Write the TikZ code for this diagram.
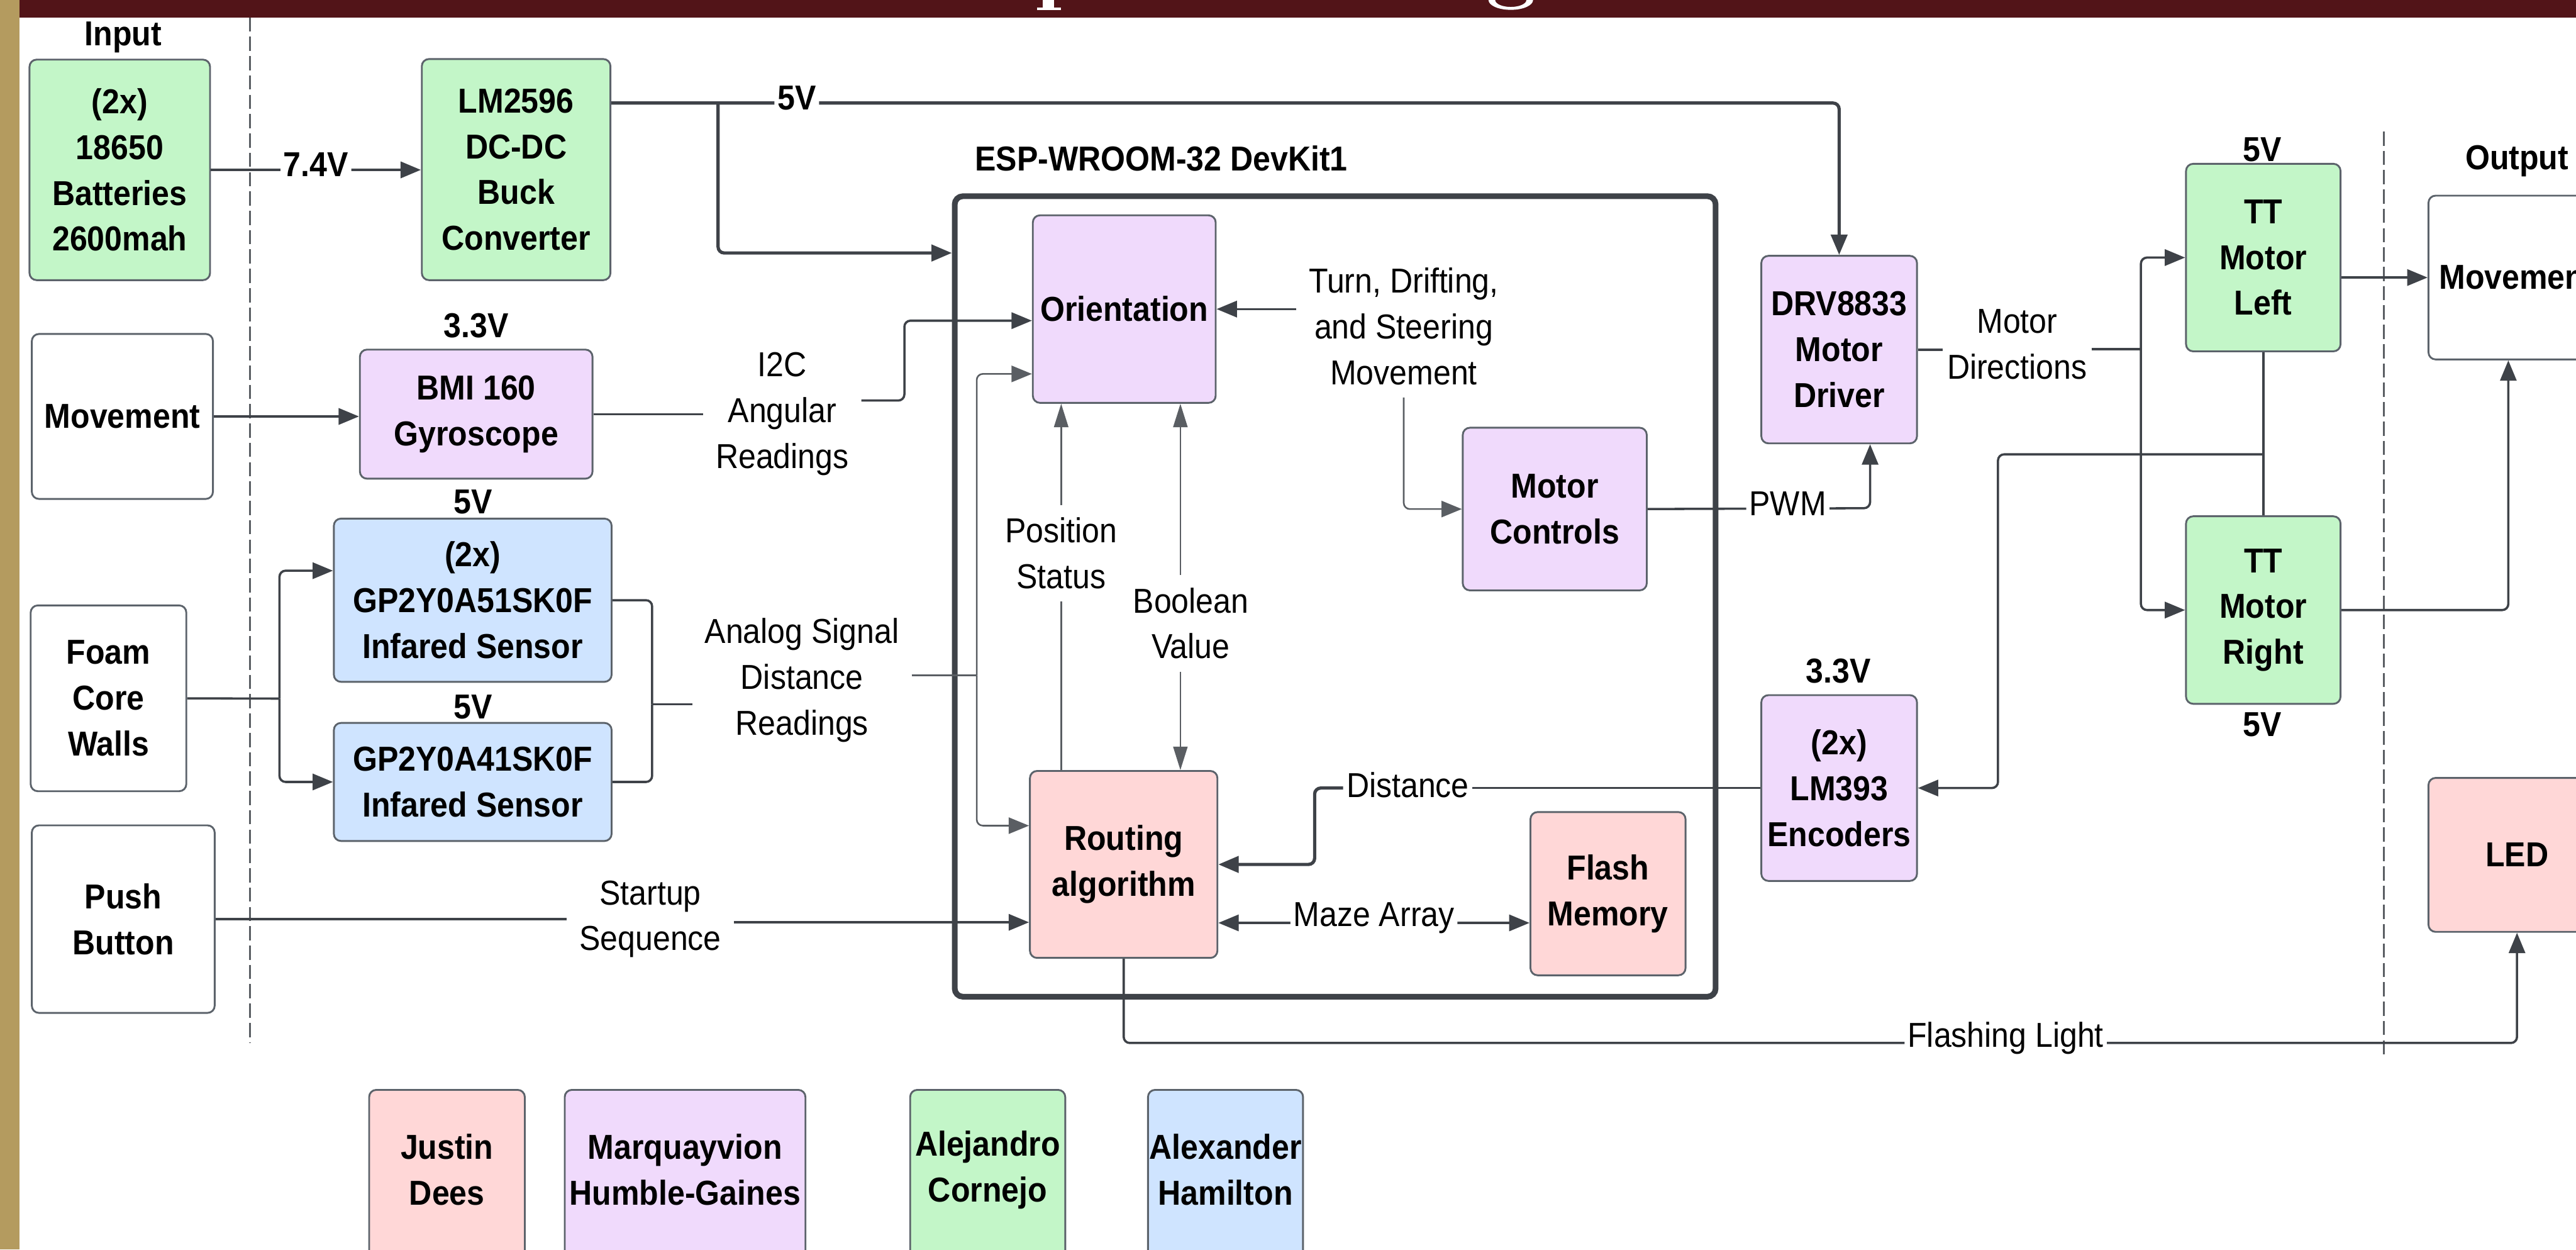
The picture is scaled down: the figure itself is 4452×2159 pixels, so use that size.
\documentclass[tikz,border=0pt]{standalone}
\usepackage{fontspec}
\setmainfont{Liberation Sans}[FakeStretch=0.91]
\usetikzlibrary{arrows.meta,calc}
\definecolor{cgreen}{HTML}{C3F6C8}
\definecolor{cpurple}{HTML}{F0DAFC}
\definecolor{cpink}{HTML}{FFD7D7}
\definecolor{cblue}{HTML}{CFE4FF}
\definecolor{cborder}{HTML}{5C636B}
\definecolor{cline}{HTML}{3E4248}
\definecolor{cthin}{HTML}{5A5E63}
\definecolor{cbanner}{HTML}{521418}
\definecolor{cgold}{HTML}{B49B5F}
\begin{document}
\begin{tikzpicture}[x=0.01cm,y=-0.01cm,
  txt/.style={font=\fontsize{17}{22.5}\selectfont, align=center},
  btxt/.style={font=\fontsize{17}{22.5}\selectfont\bfseries, align=center},
  box/.style={draw=cborder, line width=0.9pt, rounded corners=3.5pt, inner sep=0pt, btxt},
  sz/.style 2 args={minimum width=#1*0.01cm, minimum height=#2*0.01cm},
  lbl/.style={txt, inner sep=6pt},
  onl/.style={fill=white, inner sep=1.5pt, yshift=2.5pt},
  conn/.style={draw=cline, line width=1.1pt, rounded corners=3pt},
  thickc/.style={conn, line width=1.6pt},
  thinc/.style={conn, draw=cthin, line width=0.8pt},
  tip/.style={-{Triangle[length=10pt,width=8pt]}},
  ntip/.style={-{Triangle[length=11.5pt,width=7pt]}},
  dashline/.style={draw=cthin, line width=0.7pt, dash pattern=on 7pt off 2.5pt}
]
\useasboundingbox (0,0) rectangle (4452,2159);
\clip (0,0) rectangle (4452,2159);
% banner and side strip
\fill[cgold] (0,0) rectangle (34,2159);
\fill[cbanner] (34,0) rectangle (4452,30);
\fill[white] (1802,0) rectangle (1822,14);
\fill[white] (1792,13) rectangle (1834,17);
\fill[white,even odd rule] (2611,0) ellipse (38.5 and 17) (2611,0) ellipse (27 and 12);
% dashed separators
\draw[dashline] (432,30) -- (432,1802);
\draw[dashline] (4120,227) -- (4120,1827);

% ESP box
\node[draw=cline, line width=2.8pt, rounded corners=4pt, sz={1315}{1383}] (esp) at (2307.5,1030.5) {};

% blocks
\node[box, fill=cgreen, sz={312}{381}] (bat) at (207,293.5) {(2x)\\18650\\Batteries\\2600mah};
\node[box, fill=cgreen, sz={326}{382}] (buck) at (892,293) {LM2596\\DC-DC\\Buck\\Converter};
\node[box, fill=white, sz={313}{285}] (mov) at (211.5,719.5) {Movement};
\node[box, fill=cpurple, sz={402}{223}] (bmi) at (823,715.5) {BMI 160\\Gyroscope};
\node[box, fill=white, sz={269}{321}] (foam) at (187.5,1206.5) {Foam\\Core\\Walls};
\node[box, fill=cblue, sz={480}{282}] (g51) at (817,1037) {(2x)\\GP2Y0A51SK0F\\Infared Sensor};
\node[box, fill=cblue, sz={480}{204}] (g41) at (817,1351) {GP2Y0A41SK0F\\Infared Sensor};
\node[box, fill=white, sz={316}{324}] (push) at (213,1588) {Push\\Button};
\node[box, fill=cpurple, sz={316}{324}] (ori) at (1943,534) {Orientation};
\node[box, fill=cpurple, sz={318}{281}] (mc) at (2687,879.5) {Motor\\Controls};
\node[box, fill=cpink, sz={324}{323}] (rout) at (1942,1493.5) {Routing\\algorithm};
\node[box, fill=cpink, sz={268}{282}] (flash) at (2779,1544) {Flash\\Memory};
\node[box, fill=cpurple, sz={269}{324}] (drv) at (3178.5,604) {DRV8833\\Motor\\Driver};
\node[box, fill=cpurple, sz={269}{321}] (enc) at (3178.5,1361.5) {(2x)\\LM393\\Encoders};
\node[box, fill=cgreen, sz={267}{324}] (ttl) at (3911.5,445) {TT\\Motor\\Left};
\node[box, fill=cgreen, sz={267}{324}] (ttr) at (3911.5,1054) {TT\\Motor\\Right};
\node[box, fill=white, sz={306}{283}] (omov) at (4350,479.5) {Movement};
\node[box, fill=cpink, sz={306}{266}] (led) at (4350,1477) {LED};

% team boxes
\node[box, fill=cpink, sz={269}{360}] (n1) at (772.5,2063) {};
\node[btxt] (n1t) at (772.5,2021) {Justin\\Dees};
\node[box, fill=cpurple, sz={416}{360}] (n2) at (1184,2063) {};
\node[btxt] (n2t) at (1184,2021) {Marquayvion\\Humble-Gaines};
\node[box, fill=cgreen, sz={268}{360}] (n3) at (1707,2063) {};
\node[btxt] (n3t) at (1707,2021) {Alejandro\\Cornejo};
\node[box, fill=cblue, sz={268}{360}] (n4) at (2118,2063) {};
\node[btxt] (n4t) at (2118,2021) {Alexander\\Hamilton};

% headings and voltages
\node[btxt] (inlbl) at (213,64) {Input};
\node[btxt] (outlbl) at (4350,278) {Output};
\node[btxt] (esplbl) at (2007,274) {ESP-WROOM-32 DevKit1};
\node[btxt] (v1) at (823,563) {3.3V};
\node[btxt] (v2) at (818,867) {5V};
\node[btxt] (v3) at (818,1221) {5V};
\node[btxt] (v4) at (3910,258) {5V};
\node[btxt] (v5) at (3910,1252) {5V};
\node[btxt] (v6) at (3177,1159) {3.3V};

% free labels
\node[lbl] (i2c) at (1352,715) {I2C\\Angular\\Readings};
\node[lbl] (analog) at (1386,1175) {Analog Signal\\Distance\\Readings};
\node[lbl] (turn) at (2426,564) {Turn, Drifting,\\and Steering\\Movement};
\node[lbl] (pos) at (1834,956) {Position\\Status};
\node[lbl] (bool) at (2058,1077) {Boolean\\Value};
\node[lbl, inner sep=2pt] (mdir) at (3486,595) {Motor\\Directions};
\node[lbl] (startup) at (1124,1588) {Startup\\Sequence};
\node[txt, fill=white, inner sep=1.5pt] (dist) at (2433,1356) {Distance};

% coordinates
\coordinate (b5) at (1241,178);
\coordinate (e5) at ($(esp.north west)+(0,103)$);
\coordinate (i2cr) at (1563,692);
\coordinate (fj) at (483,1207);
\coordinate (bk) at (1127,1217);
\coordinate (av) at (1688,1167);
\coordinate (pwmc) at (3232,878);
\coordinate (mj) at (3700,603);
\coordinate (ej) at (3911.5,785);
\coordinate (ek) at (3453,1361.5);
\coordinate (dj) at (2272,1361.5);
\coordinate (mz) at ($(rout.east)+(0,101)$);
\coordinate (rin) at ($(rout.west)+(0,100)$);
\coordinate (fl1) at (1942,1802);
\coordinate (bt) at ($(bool.north)+(-18,0)$);
\coordinate (bb) at ($(bool.south)+(-18,0)$);

% power
\draw[conn, line width=1.3pt, tip] (bat.east) -- node[onl, btxt]{7.4V} (bat.east -| buck.west);
\draw[thickc, tip] ([yshift=1.15cm]buck.east) -- node[onl, btxt, pos=0.151]{5V} (drv.north |- b5) -- (drv.north);
\draw[thickc, tip] (b5) -- (b5 |- e5) -- (e5);

% inputs
\draw[conn, tip] (mov.east) -- (mov.east -| bmi.west);
\draw[conn] (bmi.east) -- (i2c.west |- bmi.east);
\draw[conn, tip] (i2c.east |- i2cr) -- (i2cr) |- ($(ori.west)+(0,20)$);
\draw[conn] (foam.east) -- (fj);
\draw[conn, tip] (fj) |- ($(g51.west)+(0,-51)$);
\draw[conn, tip] (fj) |- (g41.west);
\draw[conn] (g51.east) -| (bk);
\draw[conn] (g41.east) -| (bk);
\draw[conn] (bk) -- (analog.west |- bk);
\draw[thinc] (analog.east |- av) -- (av);
\draw[thinc, tip] (av) |- ($(ori.west)+(0,112)$);
\draw[thinc, tip] (av) |- ($(rout.west)+(0,-67)$);
\draw[conn] (push.east) -- (startup.west |- push.east);
\draw[conn, tip] (startup.east |- rin) -- (rin);

% inside ESP
\draw[conn, tip] (turn.west |- ori.east) -- (ori.east);
\draw[thinc, tip] (turn.south) |- (mc.west);
\draw[thinc, ntip] (pos.north) -- (pos.north |- ori.south);
\draw[thinc] (pos.south) -- (pos.south |- rout.north);
\draw[thinc, ntip] (bt) -- (bt |- ori.south);
\draw[thinc, ntip] (bb) -- (bb |- rout.north);
\draw[conn, {Triangle[length=10pt,width=8pt]}-{Triangle[length=10pt,width=8pt]}] (mz) -- node[onl, txt]{Maze Array} (mz -| flash.west);

% motor side
\draw[conn, tip] (mc.east) -- node[onl, txt, pos=0.63]{PWM} (pwmc) -- (drv.south -| pwmc);
\draw[conn] (drv.east) -- (mdir.west |- drv.east);
\draw[conn] (mdir.east |- mj) -- (mj);
\draw[conn, tip] (mj) |- (ttl.west);
\draw[conn, tip] (mj) |- (ttr.west);
\draw[conn] (ttl.south) -- (ttr.north);
\draw[conn, tip] (ej) -| (ek) -- (enc.east);
\draw[conn, tip] (omov.west -| ttl.east) -- (omov.west);
\draw[conn, tip] (ttr.east) -| ($(omov.south)+(-15,0)$);
\draw[conn] (enc.west) -- (dist.east |- enc.west);
\draw[thickc, tip] (dist.west |- enc.west) -- (dj) |- (rout.east);
\draw[conn, tip] (rout.south) -- (fl1) -- node[onl, txt, pos=0.633]{Flashing Light} (fl1 -| led.south) -- (led.south);
\end{tikzpicture}
\end{document}
